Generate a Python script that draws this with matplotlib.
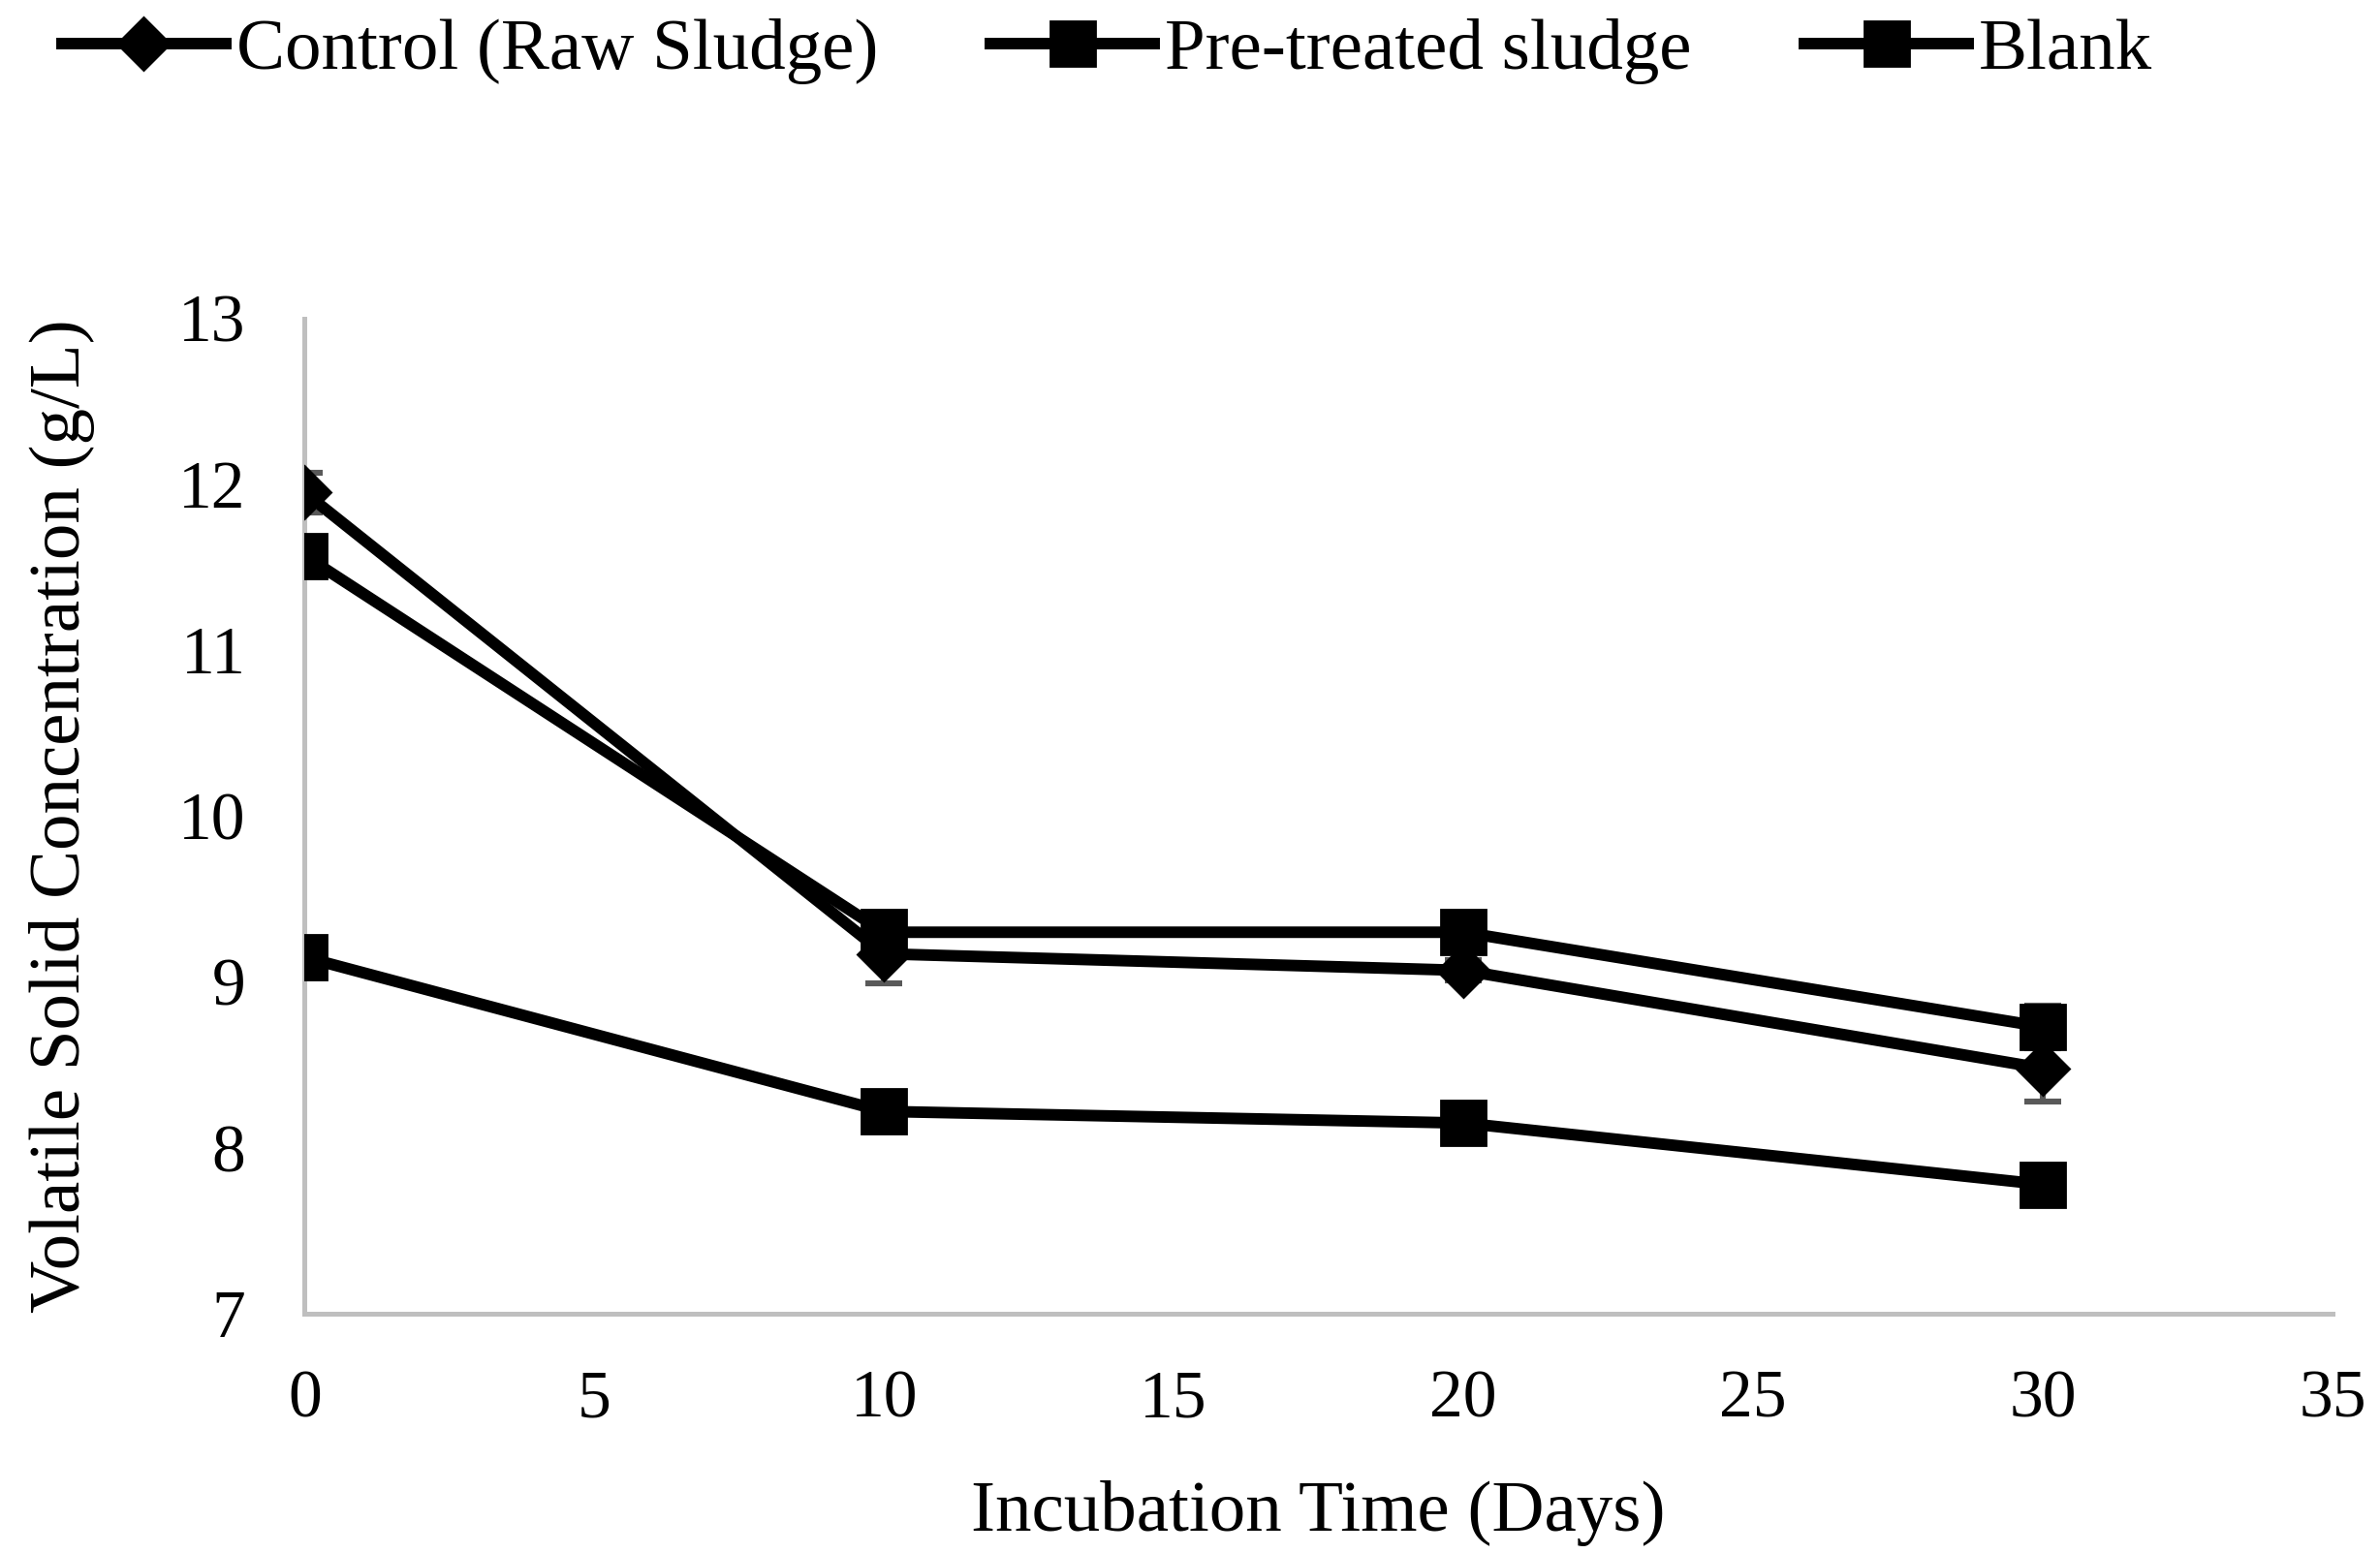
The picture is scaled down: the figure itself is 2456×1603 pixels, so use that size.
import numpy as np
import matplotlib.pyplot as plt

days = [0, 10, 20, 30]
control = [11.95, 9.17, 9.07, 8.48]
control_err = [0.12, 0.18, 0.06, 0.2]
pretreated = [11.57, 9.3, 9.3, 8.73]
pretreated_err = [0.05, 0.08, 0.06, 0.13]
blank = [9.15, 8.22, 8.15, 7.78]
blank_err = [0.05, 0.05, 0.05, 0.05]

plt.rcParams['font.family'] = ['Liberation Serif', 'DejaVu Serif']

fig = plt.figure(figsize=(12.28, 8.015), dpi=200)
ax = fig.add_axes([0.128, 0.154, 0.852, 0.641])

ecol = '#595959'
kw = dict(color='black', lw=4.3, ecolor=ecol, elinewidth=2.2, capsize=6.8, capthick=2.2)
ax.errorbar(days, control, yerr=control_err, marker='D', ms=13.5, label='Control (Raw Sludge)', **kw)
ax.errorbar(days, pretreated, yerr=pretreated_err, marker='s', ms=16.5, label='Pre-treated sludge', **kw)
ax.errorbar(days, blank, yerr=blank_err, marker='s', ms=16.5, label='Blank', **kw)

ax.set_xlim(0, 35)
ax.set_ylim(7, 13)
ax.set_xticks(np.arange(0, 36, 5))
ax.set_yticks(np.arange(7, 14, 1))
for s in ['top', 'right']:
    ax.spines[s].set_visible(False)
for s in ['left', 'bottom']:
    ax.spines[s].set_color('#bfbfbf')
    ax.spines[s].set_linewidth(1.8)
ax.spines['left'].set_zorder(0)
ax.tick_params(length=0, labelsize=25)
ax.tick_params(axis='y', pad=22)
ax.tick_params(axis='x', pad=21)

ax.set_xlabel('Incubation Time (Days)', fontsize=27, labelpad=18)
ax.set_ylabel('Volatile Solid Concentration (g/L)', fontsize=27, labelpad=31)

handles, labels = ax.get_legend_handles_labels()
handles = [h[0] for h in handles]
fig.legend(handles, labels, loc='center left', bbox_to_anchor=(0.026, 0.967), ncol=3,
           frameon=False, fontsize=27, handlelength=2.25, handletextpad=0.15,
           columnspacing=1.55, borderaxespad=0, borderpad=0)

fig.savefig('out.png')
